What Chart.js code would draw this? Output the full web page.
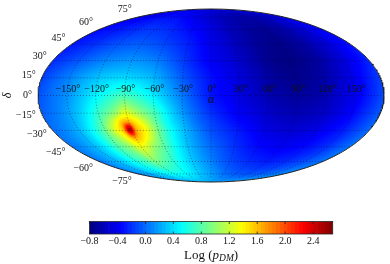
<!DOCTYPE html>
<html>
<head>
<meta charset="utf-8">
<title>Log pDM sky map</title>
<script src="https://cdn.jsdelivr.net/npm/chart.js@4"></script>
<style>
  html, body { margin: 0; padding: 0; background: #fff; }
  #wrap { position: relative; width: 390px; height: 264px; overflow: hidden; }
  canvas { position: absolute; left: 0; }
  #skyMap { top: 0; }
  #colorBar { top: 210px; }
</style>
</head>
<body>
<div id="wrap">
  <canvas id="skyMap" width="390" height="210"></canvas>
  <canvas id="colorBar" width="390" height="54"></canvas>
</div>
<script>
// axis ticks
const lonTicks = [-150, -120, -90, -60, -30, 0, 30, 60, 90, 120, 150];
const latTicks = [75, 60, 45, 30, 15, 0, -15, -30, -45, -60, -75];
const barTicks = [-0.8, -0.4, 0.0, 0.4, 0.8, 1.2, 1.6, 2.0, 2.4];
const barMin = -0.8;
const barMax = 2.68;

// Log(pDM), one row per declination (nodes are closer round the peak)
const gridLon = [-180, -165, -150, -135, -120, -105, -99, -92, -85, -75, -60, -45, -30, -15, 0, 15, 30, 45, 60, 75, 90, 105, 120, 135, 150, 165, 180];
const gridLat = [90, 75, 60, 45, 30, 15, 0, -15, -22, -29, -37, -45, -60, -75, -90];
const rowP90 = [-.5, -.5, -.5, -.5, -.5, -.5, -.5, -.5, -.5, -.5, -.5, -.5, -.5, -.5, -.5, -.5, -.5, -.5, -.5, -.5, -.5, -.5, -.5, -.5, -.5, -.5, -.5];
const rowP75 = [-.42, -.4, -.38, -.35, -.32, -.32, -.32, -.32, -.33, -.34, -.37, -.41, -.45, -.49, -.52, -.56, -.6, -.62, -.64, -.65, -.65, -.63, -.6, -.56, -.5, -.46, -.42];
const rowP60 = [-.35, -.32, -.29, -.26, -.22, -.19, -.19, -.19, -.2, -.21, -.25, -.3, -.35, -.41, -.47, -.54, -.6, -.65, -.69, -.72, -.72, -.69, -.64, -.58, -.5, -.43, -.35];
const rowP45 = [-.3, -.25, -.2, -.14, -.09, -.06, -.05, -.05, -.06, -.08, -.13, -.19, -.26, -.34, -.44, -.5, -.58, -.65, -.71, -.75, -.76, -.73, -.67, -.59, -.5, -.4, -.3];
const rowP30 = [-.23, -.15, -.07, .01, .08, .12, .13, .14, .13, .11, .05, -.06, -.18, -.3, -.4, -.47, -.54, -.63, -.71, -.77, -.78, -.75, -.69, -.6, -.49, -.37, -.23];
const rowP15 = [-.15, -.03, .08, .2, .3, .36, .37, .38, .36, .33, .25, .1, -.06, -.2, -.32, -.41, -.49, -.58, -.67, -.73, -.75, -.72, -.66, -.56, -.45, -.3, -.15];
const rowZero = [-.1, .02, .13, .3, .47, .62, .68, .74, .7, .62, .45, .25, .05, -.14, -.3, -.38, -.47, -.55, -.63, -.68, -.7, -.68, -.62, -.52, -.42, -.27, -.1];
const rowM15 = [-.05, .05, .2, .4, .68, .95, 1.1, 1.3, 1.2, 1.0, .74, .42, .16, -.04, -.2, -.31, -.4, -.47, -.54, -.6, -.62, -.6, -.55, -.47, -.36, -.2, -.05];
const rowM22 = [-.02, .08, .22, .45, .78, 1.25, 1.5, 1.65, 1.5, 1.25, .82, .46, .22, 0, -.14, -.26, -.35, -.42, -.5, -.55, -.57, -.55, -.5, -.42, -.32, -.17, -.02];
const rowM29 = [0, .1, .25, .5, .87, 1.4, 1.65, 2.55, 1.7, 1.4, .9, .52, .27, .06, -.1, -.2, -.29, -.37, -.45, -.5, -.52, -.5, -.45, -.37, -.28, -.14, 0];
const rowM37 = [.02, .12, .26, .5, .83, 1.2, 1.4, 1.65, 1.55, 1.3, .86, .52, .28, .1, -.05, -.15, -.24, -.32, -.4, -.44, -.46, -.44, -.4, -.32, -.24, -.11, .02];
const rowM45 = [.03, .13, .27, .47, .77, 1.0, 1.15, 1.3, 1.28, 1.05, .8, .52, .3, .13, 0, -.1, -.2, -.28, -.34, -.38, -.4, -.38, -.34, -.28, -.2, -.08, .03];
const rowM60 = [.05, .15, .27, .42, .6, .75, .8, .92, .88, .8, .64, .47, .32, .19, .08, -.03, -.11, -.17, -.22, -.25, -.27, -.25, -.22, -.17, -.1, -.03, .05];
const rowM75 = [.1, .17, .25, .33, .42, .48, .5, .52, .52, .52, .48, .41, .33, .25, .18, .1, .03, -.02, -.05, -.07, -.08, -.07, -.05, -.02, .03, .07, .1];
const rowM90 = [.2, .2, .2, .2, .2, .2, .2, .2, .2, .2, .2, .2, .2, .2, .2, .2, .2, .2, .2, .2, .2, .2, .2, .2, .2, .2, .2];
const gridRows = [rowP90, rowP75, rowP60, rowP45, rowP30, rowP15, rowZero, rowM15, rowM22, rowM29, rowM37, rowM45, rowM60, rowM75, rowM90];

const TEXT_FONT = '"Liberation Serif", serif';

// jet colormap, t in 0..1
function jet(t) {
    const c = v => Math.round(255 * Math.max(0, Math.min(1, v)));
    return [c(1.5 - Math.abs(4 * t - 3)), c(1.5 - Math.abs(4 * t - 2)), c(1.5 - Math.abs(4 * t - 1))];
}

// Mollweide: lon/lat in degrees to x,y in -1..1
function project(lon, lat) {
    const phi = lat * Math.PI / 180;
    let theta = phi;
    if (Math.abs(lat) >= 90) {
        theta = Math.sign(lat) * Math.PI / 2;
    } else {
        for (let i = 0; i < 30; i++) {
            const f = 2 * theta + Math.sin(2 * theta) - Math.PI * Math.sin(phi);
            theta -= f / (2 + 2 * Math.cos(2 * theta));
        }
    }
    return { x: lon / 180 * Math.cos(theta), y: Math.sin(theta) };
}

function unproject(x, y) {
    const theta = Math.asin(Math.max(-1, Math.min(1, y)));
    const lat = Math.asin((2 * theta + Math.sin(2 * theta)) / Math.PI) * 180 / Math.PI;
    const lon = x / Math.max(Math.cos(theta), 1e-6) * 180;
    return { lon: Math.max(-180, Math.min(180, lon)), lat: lat };
}

// cubic smoothing between table nodes, for the shading only
function smoothAt(xs, ys, x) {
    let i = 0;
    while (i < xs.length - 2 && (x - xs[i + 1]) * (xs[1] - xs[0]) > 0) i++;
    const h = xs[i + 1] - xs[i], t = (x - xs[i]) / h;
    const m0 = i > 0 ? (ys[i + 1] - ys[i - 1]) / (xs[i + 1] - xs[i - 1]) : (ys[1] - ys[0]) / h;
    const m1 = i < xs.length - 2 ? (ys[i + 2] - ys[i]) / (xs[i + 2] - xs[i]) : (ys[i + 1] - ys[i]) / h;
    const t2 = t * t, t3 = t2 * t;
    return (2 * t3 - 3 * t2 + 1) * ys[i] + (t3 - 2 * t2 + t) * h * m0 + (-2 * t3 + 3 * t2) * ys[i + 1] + (t3 - t2) * h * m1;
}

function sampleGrid(lon, lat) {
    return smoothAt(gridLat, gridRows.map(row => smoothAt(gridLon, row, lon)), lat);
}

// paints the table into the ellipse, pixel by pixel through the scales
const skyShade = {
    id: 'skyShade',
    beforeDatasetsDraw(chart) {
        const { ctx, chartArea: a, scales: { x, y } } = chart;
        const w = Math.ceil(a.right - a.left) + 2, h = Math.ceil(a.bottom - a.top) + 2;
        const x0 = Math.floor(a.left), y0 = Math.floor(a.top);
        const off = document.createElement('canvas');
        off.width = w; off.height = h;
        const octx = off.getContext('2d');
        const img = octx.createImageData(w, h);
        for (let j = 0; j < h; j++) {
            for (let i = 0; i < w; i++) {
                let px = x.getValueForPixel(x0 + i + 0.5), py = y.getValueForPixel(y0 + j + 0.5);
                const r = Math.hypot(px, py);
                if (r > 1.02) continue;
                if (r > 0.995) { px *= 0.995 / r; py *= 0.995 / r; }
                const s = unproject(px, py);
                const col = jet((sampleGrid(s.lon, s.lat) - barMin) / (barMax - barMin));
                const k = (j * w + i) * 4;
                img.data[k] = col[0]; img.data[k + 1] = col[1]; img.data[k + 2] = col[2]; img.data[k + 3] = 255;
            }
        }
        octx.putImageData(img, 0, 0);
        ctx.save();
        ctx.beginPath();
        ctx.ellipse((a.left + a.right) / 2, (a.top + a.bottom) / 2, (a.right - a.left) / 2, (a.bottom - a.top) / 2, 0, 0, Math.PI * 2);
        ctx.clip();
        ctx.drawImage(off, x0, y0);
        ctx.restore();
    }
};

function degLabel(v) {
    return (v < 0 ? '\u2212' + (-v) : v) + '\u00b0';
}

// longitude, latitude and axis names
const skyLabels = {
    id: 'skyLabels',
    afterDatasetsDraw(chart) {
        const { ctx, scales: { x, y } } = chart;
        ctx.save();
        ctx.fillStyle = '#111';
        ctx.font = '10px ' + TEXT_FONT;
        ctx.textBaseline = 'middle';
        ctx.textAlign = 'center';
        lonTicks.forEach(lon => {
            ctx.fillText(degLabel(lon), x.getPixelForValue(project(lon, 0).x) + 1, y.getPixelForValue(0) - 6.5);
        });
        ctx.textAlign = 'right';
        latTicks.forEach(lat => {
            const p = project(-180, lat);
            ctx.fillText(degLabel(lat), x.getPixelForValue(p.x) - 6, y.getPixelForValue(p.y) - 8 * Math.sin(lat * Math.PI / 180));
        });
        ctx.textAlign = 'center';
        ctx.font = 'italic 12px ' + TEXT_FONT;
        ctx.fillText('\u03b1', x.getPixelForValue(0), y.getPixelForValue(0) + 4.5);
        ctx.translate(8, y.getPixelForValue(0));
        ctx.rotate(-Math.PI / 2);
        ctx.fillText('\u03b4', 0, 0);
        ctx.restore();
    }
};

// dotted graticule plus the outline, through the chart's own line drawing
const dotted = { borderDash: [1, 2], borderWidth: 0.9, borderColor: 'rgba(0,0,40,0.45)' };
const skyLines = [];
const stepLat = [];
for (let lat = -80; lat <= 80; lat += 4) stepLat.push(lat);
lonTicks.forEach(lon => {
    skyLines.push({ data: stepLat.map(lat => project(lon, lat)), ...dotted });
});
latTicks.forEach(lat => {
    skyLines.push({ data: [project(-180, lat), project(180, lat)], ...dotted });
});
const rimLat = [];
for (let lat = -90; lat <= 90; lat += 1) rimLat.push(lat);
skyLines.push({
    data: rimLat.map(lat => project(-180, lat)).concat(rimLat.slice().reverse().map(lat => project(180, lat))),
    borderWidth: 1, borderColor: '#222', clip: false
});

new Chart(document.getElementById('skyMap'), {
    type: 'scatter',
    data: { datasets: skyLines.map(d => ({ showLine: true, pointRadius: 0, tension: 0, ...d })) },
    options: {
        responsive: false,
        animation: false,
        layout: { padding: { left: 38, right: 6, top: 9, bottom: 28 } },
        plugins: { legend: { display: false }, tooltip: { enabled: false } },
        scales: {
            x: { type: 'linear', min: -1, max: 1, display: false },
            y: { type: 'linear', min: -1, max: 1, display: false }
        }
    },
    plugins: [skyShade, skyLabels]
});

// colour bar: one floating bar per colour band
const bandCount = 64;
const bandEdges = [];
for (let i = 0; i <= bandCount; i++) bandEdges.push(barMin + (barMax - barMin) * i / bandCount);
const bandSets = bandEdges.slice(0, -1).map((lo, i) => {
    const c = jet((i + 0.5) / bandCount);
    return {
        data: [[lo, bandEdges[i + 1]]],
        backgroundColor: `rgb(${c[0]},${c[1]},${c[2]})`,
        grouped: false, barPercentage: 1, categoryPercentage: 1
    };
});

const barExtras = {
    id: 'barExtras',
    afterDatasetsDraw(chart) {
        const { ctx, chartArea: a, scales: { x } } = chart;
        ctx.save();
        ctx.strokeStyle = '#222';
        ctx.lineWidth = 0.8;
        barTicks.forEach(v => {
            const px = x.getPixelForValue(v);
            ctx.beginPath();
            ctx.moveTo(px, a.top); ctx.lineTo(px, a.top + 2.5);
            ctx.moveTo(px, a.bottom); ctx.lineTo(px, a.bottom - 2.5);
            ctx.stroke();
        });
        ctx.strokeRect(a.left, a.top, a.right - a.left, a.bottom - a.top);
        // axis name with subscript
        ctx.fillStyle = '#111';
        ctx.textBaseline = 'alphabetic';
        ctx.textAlign = 'left';
        let px = 184;
        const put = (s, font, dy) => {
            ctx.font = font;
            ctx.fillText(s, px, 49 + dy);
            px += ctx.measureText(s).width;
        };
        put('Log (', '13px ' + TEXT_FONT, 0);
        put('p', 'italic 13px ' + TEXT_FONT, 0);
        put('DM', 'italic 9.5px ' + TEXT_FONT, 2);
        put(')', '13px ' + TEXT_FONT, 0);
        ctx.restore();
    }
};

new Chart(document.getElementById('colorBar'), {
    type: 'bar',
    data: { labels: ['Log'], datasets: bandSets },
    options: {
        indexAxis: 'y',
        responsive: false,
        animation: false,
        layout: { padding: { left: 89.5, right: 57.3, top: 11.5, bottom: 30 } },
        plugins: { legend: { display: false }, tooltip: { enabled: false } },
        scales: {
            x: { type: 'linear', min: barMin, max: barMax, display: false },
            y: { display: false }
        }
    },
    plugins: [barExtras, {
        id: 'barTickLabels',
        afterDraw(chart) {
            const { ctx, chartArea: a, scales: { x } } = chart;
            ctx.save();
            ctx.fillStyle = '#111';
            ctx.font = '10px ' + TEXT_FONT;
            ctx.textAlign = 'center';
            ctx.textBaseline = 'middle';
            barTicks.forEach(v => {
                ctx.fillText(v.toFixed(1).replace('-', '\u2212'), x.getPixelForValue(v), a.bottom + 7);
            });
            ctx.restore();
        }
    }]
});
</script>
</body>
</html>
